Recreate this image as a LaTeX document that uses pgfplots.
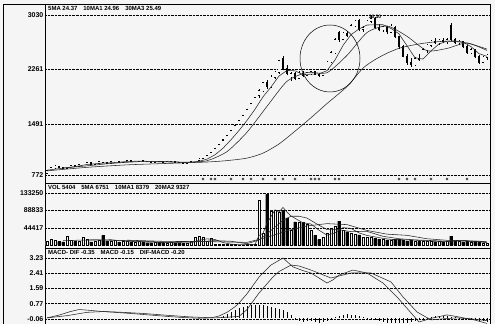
\documentclass[border=0pt]{standalone}
\usepackage{fontspec}
\setmainfont{Liberation Sans}
\usepackage{pgfplots}
\usepackage{pgfplotstable}
\pgfplotsset{compat=1.18}
\definecolor{bg}{gray}{0.96}

\pgfplotstableread{
x o h l c v
0 800 840 790 830 12
1 830 880 825 870 15
2 875 910 860 895 14
5 870 900 865 895 24
6 895 915 885 905 13
8 898 925 895 918 12
9 918 945 910 935 22
10 935 960 925 945 16
12 925 945 920 938 11
13 938 965 930 955 14
16 938 965 935 958 10
17 958 975 950 965 13
19 950 975 948 968 11
20 968 985 960 975 10
22 960 975 955 968 9
23 968 990 962 978 12
27 952 972 948 965 9
30 948 962 942 955 7
31 955 968 950 962 8
35 940 958 936 952 7
36 952 965 948 960 10
37 960 985 955 978 20
38 978 1005 972 995 24
39 1000 1000 1000 1000 20
40 1045 1045 1045 1045 10
41 1095 1095 1095 1095 18
42 1150 1150 1150 1150 4
43 1205 1205 1205 1205 3
44 1265 1265 1265 1265 3
45 1330 1330 1330 1330 3
46 1395 1395 1395 1395 3
47 1465 1465 1465 1465 3
48 1540 1540 1540 1540 2
49 1615 1615 1615 1615 2
50 1695 1695 1695 1695 3
51 1780 1780 1780 1780 3
52 1870 1870 1870 1870 4
53 1900 1990 1860 1960 115
54 1960 2080 1950 2070 30
56 2020 2180 2000 2150 88
57 2150 2240 2120 2220 90
58 2220 2400 2200 2380 85
61 2160 2230 2100 2200 40
63 2140 2240 2120 2210 60
65 2180 2230 2170 2215 55
66 2200 2245 2185 2230 40
69 2180 2270 2170 2255 20
70 2260 2380 2250 2360 30
71 2370 2520 2350 2500 45
72 2500 2700 2480 2680 50
74 2690 2790 2680 2770 40
76 2740 2900 2730 2880 30
77 2880 2960 2860 2940 28
79 2830 2880 2790 2850 22
80 2850 2960 2840 2940 20
81 2940 3030 2920 2980 22
84 2820 2880 2790 2860 15
86 2790 2900 2780 2870 14
92 2330 2430 2310 2410 12
94 2400 2560 2390 2540 12
95 2540 2620 2500 2600 11
96 2600 2680 2580 2660 10
98 2640 2690 2610 2670 10
100 2650 2700 2620 2680 10
103 2640 2680 2600 2660 10
106 2500 2560 2480 2540 9
109 2360 2450 2350 2430 7
110 2430 2480 2400 2460 5.4
}\upc

\pgfplotstableread{
x o h l c v
3 895 905 870 880 10
4 880 890 860 870 9
7 905 910 890 898 10
11 945 950 920 925 9
14 955 960 935 945 26
15 945 950 930 938 12
18 965 970 945 950 9
21 975 978 955 960 8
24 978 982 960 968 8
25 968 972 950 958 7
26 958 965 945 952 7
28 965 970 950 958 8
29 958 962 940 948 6
32 962 965 945 952 6
33 952 958 938 945 6
34 945 952 935 940 5
55 2080 2110 1990 2020 130
59 2420 2450 2250 2280 90
60 2280 2330 2180 2210 70
62 2200 2220 2110 2140 60
64 2210 2240 2160 2180 58
67 2230 2240 2180 2195 26
68 2195 2215 2160 2180 15
73 2780 2800 2650 2690 62
75 2770 2800 2720 2740 35
78 2950 2970 2800 2830 27
82 2980 3000 2830 2860 18
83 2860 2900 2800 2820 16
85 2860 2870 2760 2790 14
87 2860 2870 2700 2720 15
88 2720 2740 2550 2580 16
89 2580 2600 2430 2450 14
90 2450 2480 2330 2360 12
91 2360 2420 2290 2330 14
93 2410 2480 2380 2400 10
97 2660 2700 2620 2640 9
99 2670 2700 2630 2650 9
101 2880 2910 2660 2680 24
102 2680 2700 2620 2640 12
104 2650 2660 2560 2580 9
105 2580 2600 2480 2500 11
107 2540 2550 2420 2440 10
108 2440 2460 2340 2360 8
}\downc

\pgfplotsset{
  panel/.style={scale only axis, width=445bp, xmin=-0.5, xmax=110.75,
    xtick=\empty, axis line style={black, line width=0.6bp},
    ymajorgrids, grid style={black, densely dotted, line width=0.4bp},
    ytick style={draw=none}, scaled y ticks=false,
    yticklabel style={font=\fontsize{7}{7}\selectfont\bfseries, inner sep=1.5bp},
    anchor=south west, axis background/.style={fill=bg}},
  maline/.style={black!85, line width=0.55bp, mark=none},
}
\tikzset{hdr/.style={anchor=north west, inner sep=0pt, font=\fontsize{6}{6}\selectfont\bfseries}}

\begin{document}
\begin{tikzpicture}
\fill[bg] (0,0) rectangle (495bp,324bp);
% ---------------- price panel ----------------
\begin{axis}[panel, at={(45bp,141bp)}, height=179bp, ymin=659, ymax=3185,
  ytick={772,1491,2261,3030}, yticklabels={772,1491,2261,3030}]
\addplot[mark=none, draw=none, forget plot, error bars/.cd, y dir=plus, y explicit, error mark=none,
  error bar style={draw=black, line width=0.6bp}]
  table[x=x, y=l, y error expr=\thisrow{h}-\thisrow{l}] {\upc};
\addplot[mark=none, draw=none, forget plot, error bars/.cd, y dir=plus, y explicit, error mark=none,
  error bar style={draw=black, line width=0.6bp}]
  table[x=x, y=l, y error expr=\thisrow{h}-\thisrow{l}] {\downc};
\addplot[mark=none, draw=none, forget plot, error bars/.cd, y dir=plus, y explicit, error mark=none,
  error bar style={draw=black, line width=2.8bp}]
  table[x=x, y expr=\thisrow{c}-7, y error expr=\thisrow{o}-\thisrow{c}+14] {\downc};
\addplot[mark=none, draw=none, forget plot, error bars/.cd, y dir=plus, y explicit, error mark=none,
  error bar style={draw=black, line width=2.8bp}]
  table[x=x, y expr=\thisrow{o}-8, y error expr=\thisrow{c}-\thisrow{o}+16] {\upc};
\addplot[mark=none, draw=none, forget plot, error bars/.cd, y dir=plus, y explicit, error mark=none,
  error bar style={draw=bg, line width=1.3bp}]
  table[x=x, y=o, y error expr=\thisrow{c}-\thisrow{o}] {\upc};
% MA5
\addplot[maline] coordinates {(4,870)(6,882)(8,900)(10,920)(12,930)(14,940)(16,945)(18,952)(20,963)(22,966)(24,968)(26,962)(28,958)(30,956)(32,954)(34,948)(36,950)(38,965)(40,996)(42,1057)(44,1150)(46,1269)(48,1400)(50,1542)(52,1700)(54,1875)(56,2014)(58,2168)(60,2248)(62,2242)(64,2188)(66,2195)(68,2200)(70,2244)(72,2395)(74,2600)(76,2752)(78,2832)(80,2888)(82,2892)(84,2892)(86,2840)(88,2764)(90,2596)(92,2426)(94,2408)(96,2522)(98,2622)(100,2660)(102,2664)(104,2648)(106,2584)(108,2484)(110,2446)};
% MA10
\addplot[maline, smooth, tension=0.4] coordinates {(0,840)(5,875)(10,901)(15,930)(20,951)(25,964)(30,961)(35,953)(40,973)(45,1102)(50,1375)(55,1741)(60,2094)(65,2218)(70,2216)(75,2460)(80,2782)(85,2875)(90,2729)(95,2526)(100,2558)(105,2636)(110,2529)};
% MA30
\addplot[maline, smooth, tension=0.4] coordinates {(0,830)(10,880)(20,915)(30,935)(40,955)(45,975)(50,1010)(54,1080)(58,1210)(62,1390)(66,1580)(70,1780)(75,2020)(79,2280)(82,2400)(85,2490)(88,2560)(91,2600)(94,2630)(97,2650)(100,2660)(103,2650)(106,2620)(110,2549)};
% bottom markers
\addplot[only marks, mark=o, mark size=1.1bp, mark options={black, line width=0.4bp}] coordinates {(39,716)(41,716)(42,716)(46,716)(49,716)(51,716)(54,716)(57,716)(59,716)(62,716)(66,716)(67,716)(68,716)(72,716)(73,716)(88,716)(90,716)(92,716)(96,716)(100,716)(105,716)};
\draw[black, line width=0.5bp] (axis cs:70.75,2416) ellipse [x radius=30bp, y radius=33.5bp];
\node[font=\fontsize{5}{5}\selectfont\bfseries, inner sep=0pt] at (axis cs:82,3005) {30.30};
\node[hdr] at ([xshift=3bp,yshift=-2.5bp]rel axis cs:0,1) {5MA 24.37\quad 10MA1 24.96\quad 30MA3 25.49};
\end{axis}
% ---------------- volume panel ----------------
\begin{axis}[panel, at={(45bp,76bp)}, height=65bp, ymin=-6.345, ymax=158.63,
  ytick={44.417,88.833,133.25}, yticklabels={44417,88833,133250}]
\addplot[ybar, bar width=2.6bp, bar shift=0pt, draw=black, fill=bg, line width=0.4bp] table[x=x, y=v] {\upc};
\addplot[ybar, bar width=2.6bp, bar shift=0pt, draw=black, fill=black, line width=0.4bp] table[x=x, y=v] {\downc};
\addplot[maline] coordinates {(4,12)(8,13.6)(12,14)(16,14.6)(20,10.6)(24,9.4)(28,7.8)(32,7)(36,6.8)(38,13.2)(40,16.8)(42,15.2)(44,7.6)(46,3.2)(48,2.8)(50,2.6)(52,2.8)(53,25.4)(54,31)(55,56.4)(56,73.4)(57,90.6)(58,84.6)(59,96.6)(60,84.6)(61,75)(62,69)(64,57.6)(66,54.6)(68,38.8)(70,26.2)(72,32)(74,45.4)(76,43.4)(78,32)(80,25.4)(82,21.8)(84,18.2)(86,15.4)(88,14.8)(90,14.2)(92,13.6)(94,12)(96,11)(98,10.4)(100,9.6)(102,13)(104,13)(106,10.2)(108,9.4)(110,6.8)};
\addplot[maline] coordinates {(10,14.5)(20,12.5)(30,8.1)(38,9.9)(42,12.4)(46,10.8)(50,4.4)(53,14.1)(55,29.5)(57,46.7)(59,63.8)(61,74.2)(63,74.3)(65,69.6)(68,51.4)(70,40.4)(73,40.1)(76,35.3)(80,35.9)(84,23.3)(88,17.2)(92,14.2)(96,12.6)(100,10.7)(104,11.4)(108,11.2)(110,8.4)};
\addplot[maline] coordinates {(20,13.5)(30,10.3)(40,9.9)(50,8)(55,20.5)(60,37.5)(65,49.6)(70,55.5)(75,53)(80,38.2)(85,28.8)(90,25.8)(95,17.1)(100,13.2)(105,12.2)(110,9.3)};
\node[hdr] at ([xshift=3bp,yshift=-2bp]rel axis cs:0,1) {VOL 5404\quad 5MA 6751\quad 10MA1 8379\quad 20MA2 9327};
\end{axis}
% ---------------- MACD panel ----------------
\begin{axis}[panel, at={(45bp,0bp)}, height=76bp, ymin=-0.33, ymax=3.77,
  ytick={-0.06,0.77,1.59,2.41,3.23}, yticklabels={-0.06,0.77,1.59,2.41,3.23}]
\addplot[ycomb, black, line width=0.4bp, mark=none] coordinates {(44,0.1)(45,0.2)(46,0.3)(47,0.45)(48,0.55)(49,0.6)(50,0.65)(51,0.7)(52,0.72)(53,0.72)(54,0.7)(55,0.65)(56,0.6)(57,0.55)(58,0.5)(59,0.45)(60,0.3)(61,0.15)(62,-0.1)(63,-0.15)(64,-0.2)(65,-0.15)(66,-0.15)(67,-0.2)(68,-0.25)(69,-0.2)(70,-0.15)(71,-0.05)(72,0.05)(73,0.1)(74,0.15)(75,0.2)(76,0.18)(77,0.15)(78,0.1)(79,0.05)(80,0.02)(81,-0.05)(82,-0.1)(83,-0.15)(84,-0.2)(85,-0.25)(86,-0.3)(87,-0.3)(88,-0.3)(89,-0.28)(90,-0.25)(91,-0.2)(92,-0.15)(93,-0.1)(94,-0.05)(95,0.02)(96,0.05)(97,0.08)(98,0.1)(99,0.1)(100,0.08)(101,0.06)(102,0.04)(103,-0.02)(104,-0.05)(105,-0.08)(106,-0.1)(107,-0.12)(108,-0.15)(109,-0.18)(110,-0.2)};
\addplot[maline] coordinates {(0,0.0)(3,0.15)(6,0.35)(8,0.45)(10,0.42)(13,0.36)(17,0.3)(22,0.22)(26,0.15)(30,0.08)(34,0.02)(38,-0.02)(41,0.0)(43,0.1)(45,0.3)(47,0.6)(48,0.8)(50,1.3)(53,2.2)(56,2.85)(59,3.23)(61.5,2.75)(64,2.55)(66,2.42)(68,2.15)(70,1.88)(71.5,2.05)(73,2.31)(76.5,2.58)(80,2.42)(84,1.88)(87.5,1.13)(91,0.27)(93,-0.22)(96.5,0.0)(100,0.16)(103,0.05)(107,-0.12)(110,-0.3)};
\addplot[maline] coordinates {(0,0.0)(5,0.12)(10,0.3)(14,0.34)(18,0.31)(24,0.24)(30,0.14)(36,0.05)(42,0.0)(46,0.05)(48,0.08)(50,0.45)(53,1.34)(56.5,2.21)(58,2.5)(61,2.85)(63,2.8)(66,2.58)(71,2.15)(76,2.42)(81,2.42)(86,1.94)(89,1.13)(92.5,0.32)(96,-0.11)(99,-0.05)(102.5,0.0)(106,-0.05)(110,-0.15)};
\node[hdr] at ([xshift=3bp,yshift=-2.5bp]rel axis cs:0,1) {MACD- DIF -0.35\quad MACD -0.15\quad DIF-MACD -0.20};
\end{axis}
\draw[black, line width=0.8bp] (3bp,0) -- (3bp,320bp) -- (490bp,320bp);
\pgfresetboundingbox
\path[use as bounding box] (0,0) rectangle (495bp,324bp);
\end{tikzpicture}
\end{document}
